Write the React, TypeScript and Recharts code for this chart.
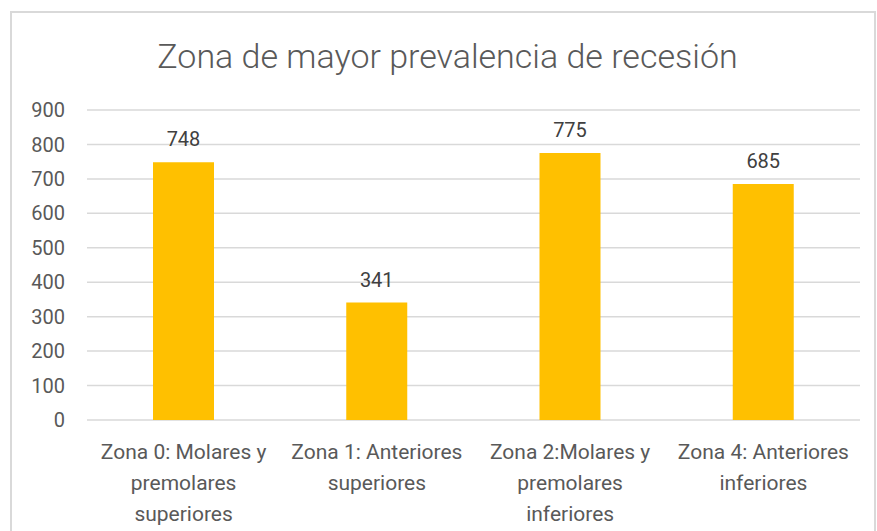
import { Bar, BarChart, CartesianGrid, LabelList, XAxis, YAxis } from "recharts";

const categories = [
  "Zona 0: Molares y premolares superiores",
  "Zona 1: Anteriores superiores",
  "Zona 2:Molares y premolares inferiores",
  "Zona 4: Anteriores inferiores",
];
const categoryLines = [
  ["Zona 0: Molares y", "premolares", "superiores"],
  ["Zona 1: Anteriores", "superiores"],
  ["Zona 2:Molares y", "premolares", "inferiores"],
  ["Zona 4: Anteriores", "inferiores"],
];
const values = [748, 341, 775, 685];
const yTicks = [0, 100, 200, 300, 400, 500, 600, 700, 800, 900];

const FONT = "Roboto, 'Liberation Sans', sans-serif";

function CategoryTick(props: any) {
  const { x, y, payload } = props;
  const idx = categories.indexOf(payload.value);
  const lines = categoryLines[idx] || [payload.value];
  return (
    <text x={x} y={y} textAnchor="middle" fill="#595959" fontSize={21} fontFamily={FONT}>
      {lines.map((l, i) => (
        <tspan key={i} x={x} dy={31}>
          {l}
        </tspan>
      ))}
    </text>
  );
}

export default function App() {
  const data = categories.map((c, i) => ({ name: c, value: values[i] }));
  return (
    <div style={{ position: "relative", width: 877, height: 531, background: "#fff", overflow: "hidden" }}>
      <style>{`body{margin:0}`}</style>
      <div
        style={{
          position: "absolute",
          left: 10,
          top: 11,
          width: 866,
          height: 560,
          border: "2px solid #d9d9d9",
          boxSizing: "border-box",
        }}
      />
      <div
        style={{
          position: "absolute",
          left: 0,
          width: 895,
          top: 36,
          textAlign: "center",
          fontFamily: FONT,
          fontWeight: 300,
          fontSize: 34,
          color: "#595959",
        }}
      >
        Zona de mayor prevalencia de recesión
      </div>
      <div style={{ position: "absolute", left: 0, top: 0 }}>
        <BarChart width={877} height={531} data={data} margin={{ top: 110, right: 17, left: 0, bottom: 0 }}>
          <CartesianGrid vertical={false} stroke="#d9d9d9" strokeWidth={1.5} />
          <XAxis
            dataKey="name"
            axisLine={false}
            tickLine={false}
            height={111}
            interval={0}
            tick={<CategoryTick />}
          />
          <YAxis
            width={87}
            domain={[0, 900]}
            ticks={yTicks}
            axisLine={false}
            tickLine={false}
            tickSize={0}
            tickMargin={22}
            tick={{ fill: "#595959", fontSize: 20, fontFamily: FONT }}
          />
          <Bar dataKey="value" fill="#FFC000" barSize={61} isAnimationActive={false}>
            <LabelList
              dataKey="value"
              position="top"
              offset={16}
              fill="#404040"
              fontSize={20}
              fontFamily={FONT}
            />
          </Bar>
        </BarChart>
      </div>
    </div>
  );
}
